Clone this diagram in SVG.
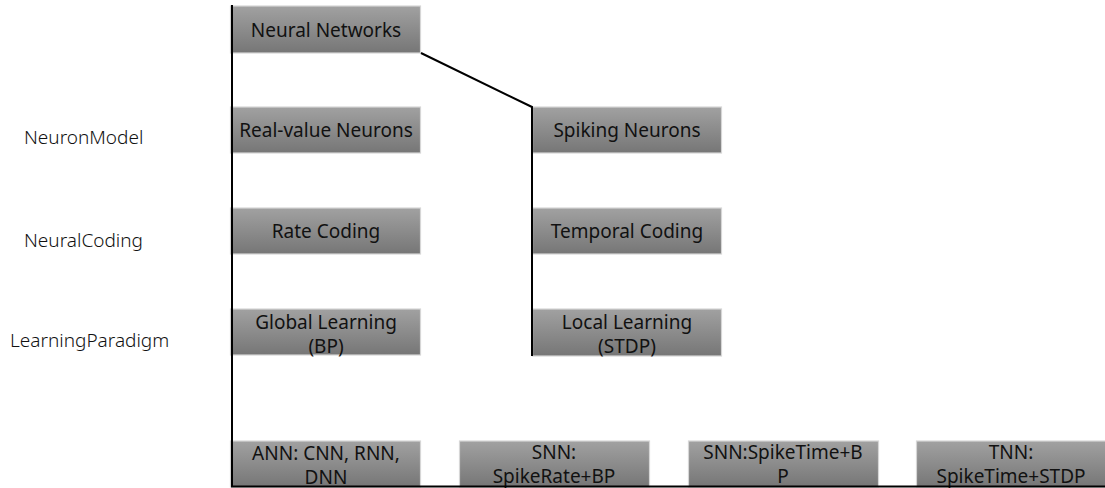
<svg xmlns="http://www.w3.org/2000/svg" width="1105" height="488" viewBox="0 0 1105 488">
  <defs>
    <linearGradient id="boxFill" x1="0" y1="0" x2="0" y2="1">
      <stop offset="0" stop-color="#a1a1a1"/>
      <stop offset="1" stop-color="#767676"/>
    </linearGradient>
    <style>
      .box { fill: url(#boxFill); stroke: #d6d6d6; stroke-width: 1.2; }
      .lbl { font-family: "Noto Sans", "Liberation Sans", sans-serif; font-size: 19px; fill: #111; text-anchor: middle; }
      .side { font-family: "Noto Sans", "Liberation Sans", sans-serif; font-size: 19px; fill: #111; font-weight: 300; }
      .edge { stroke: #000; stroke-width: 2; fill: none; }
    </style>
  </defs>
  <rect width="1105" height="488" fill="#ffffff"/>

  <!-- row titles -->
  <g id="row-labels">
    <text class="side" x="24" y="144">NeuronModel</text>
    <text class="side" x="24" y="247">NeuralCoding</text>
    <text class="side" x="10" y="347">LearningParadigm</text>
  </g>

  <g id="n-neural-networks">
    <rect class="box" x="230.5" y="6" width="190" height="47"/>
    <text class="lbl" x="326" y="36.5">Neural Networks</text>
  </g>
  <g id="n-real-value">
    <rect class="box" x="230.5" y="107" width="190" height="46"/>
    <text class="lbl" x="326" y="137">Real-value Neurons</text>
  </g>
  <g id="n-spiking">
    <rect class="box" x="532.5" y="107" width="189" height="46"/>
    <text class="lbl" x="627" y="137">Spiking Neurons</text>
  </g>
  <g id="n-rate">
    <rect class="box" x="230.5" y="208" width="190" height="46"/>
    <text class="lbl" x="326" y="238">Rate Coding</text>
  </g>
  <g id="n-temporal">
    <rect class="box" x="532.5" y="208" width="189" height="46"/>
    <text class="lbl" x="627" y="238">Temporal Coding</text>
  </g>
  <g id="n-global">
    <rect class="box" x="230.5" y="309" width="190" height="46"/>
    <text class="lbl" x="326" y="329">Global Learning</text>
    <text class="lbl" x="326" y="353">(BP)</text>
  </g>
  <g id="n-local">
    <rect class="box" x="532.5" y="309" width="189" height="47"/>
    <text class="lbl" x="627" y="329">Local Learning</text>
    <text class="lbl" x="627" y="353">(STDP)</text>
  </g>
  <g id="n-ann">
    <rect class="box" x="230.5" y="441" width="190" height="46"/>
    <text class="lbl" x="326" y="460">ANN: CNN, RNN,</text>
    <text class="lbl" x="326" y="484">DNN</text>
  </g>
  <g id="n-snn-rate">
    <rect class="box" x="459.5" y="441" width="190" height="46"/>
    <text class="lbl" x="554" y="459">SNN:</text>
    <text class="lbl" x="554" y="483">SpikeRate+BP</text>
  </g>
  <g id="n-snn-time">
    <rect class="box" x="688.5" y="441" width="190" height="46"/>
    <text class="lbl" x="783" y="459">SNN:SpikeTime+B</text>
    <text class="lbl" x="783" y="483">P</text>
  </g>
  <g id="n-tnn">
    <rect class="box" x="916.5" y="441" width="190" height="46"/>
    <text class="lbl" x="1011" y="459">TNN:</text>
    <text class="lbl" x="1011" y="483">SpikeTime+STDP</text>
  </g>

  <!-- connectors -->
  <g id="connectors">
    <line class="edge" x1="232" y1="5" x2="232" y2="487"/>
    <polyline class="edge" points="421,53 532,107 532,356"/>
    <line class="edge" x1="231" y1="486.5" x2="1105" y2="486.5"/>
  </g>
</svg>
